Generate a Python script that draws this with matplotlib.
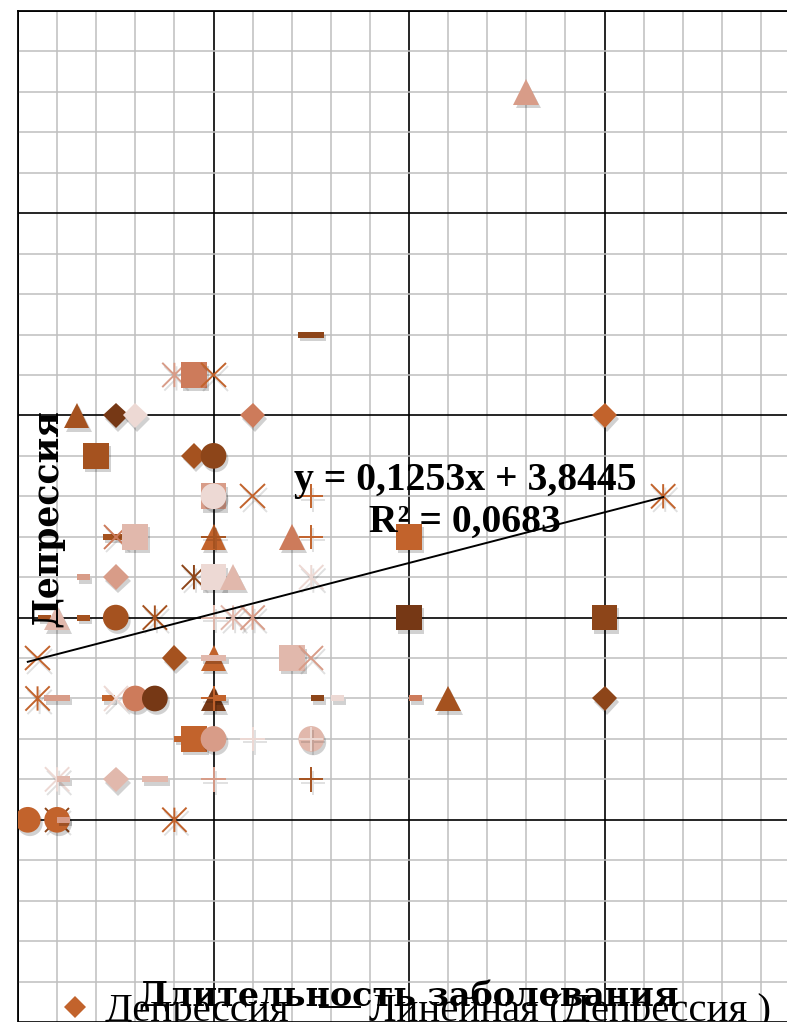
import numpy as np
import matplotlib
matplotlib.use('Agg')
import matplotlib.pyplot as plt
import matplotlib.patheffects as pe
from matplotlib.lines import Line2D
from matplotlib.path import Path

plt.rcParams['font.family'] = ['Liberation Serif', 'DejaVu Serif']

# palette of the "vary colours by point" series
ORANGE = '#C2632C'
RUST = '#A5521F'
BROWN = '#8D4519'
DARK = '#763815'
SALMON = '#CD7B5B'
LSAL = '#D89C88'
PINK = '#E1B8AC'
BLUSH = '#EDD9D4'

# duration of illness (years) and depression score, row by row
duration = [26,
            15,
            8, 9, 10,
            3, 5, 6, 12, 30,
            4, 9, 10,
            10, 10, 12, 15, 33,
            5, 5, 6, 10, 10, 14, 15, 20,
            3, 5, 9, 10, 11, 15,
            1, 2, 3, 5, 7, 10, 11, 12, 20, 30,
            1, 8, 10, 10, 14, 15,
            1, 2, 4.3, 5, 6, 7, 10, 10, 10, 15, 16, 20, 22, 30,
            8, 9, 10, 12, 15, 15,
            2, 2, 5, 7, 10, 15,
            0.5, 2, 2, 2, 8]
depression = [18,
              12,
              11, 11, 11,
              10, 10, 10, 10, 10,
              9, 9, 9,
              8, 8, 8, 8, 8,
              7, 7, 7, 7, 7, 7, 7, 7,
              6, 6, 6, 6, 6, 6,
              5, 5, 5, 5, 5, 5, 5, 5, 5, 5,
              4, 4, 4, 4, 4, 4,
              3, 3, 3, 3, 3, 3, 3, 3, 3, 3, 3, 3, 3, 3,
              2, 2, 2, 2, 2, 2,
              1, 1, 1, 1, 1, 1,
              0, 0, 0, 0, 0]

# marker shape and colour of each point
shapes = ['tri',
          'bar',
          'star', 'sq', 'x',
          'tri', 'dia', 'dia', 'dia', 'dia',
          'sq', 'dia', 'circ',
          'sq', 'circ', 'x', 'plus', 'star',
          'bar', 'x', 'sq', 'tri', 'plus', 'tri', 'plus', 'sq',
          'dot', 'dia', 'star', 'sq', 'tri', 'star',
          'dot', 'tri', 'dot', 'circ', 'star', 'plus', 'star', 'star', 'sq', 'sq',
          'x', 'dia', 'tri', 'bar', 'sq', 'x',
          'star', 'bar', 'dot', 'x', 'circ', 'circ', 'tri', 'plus', 'dot',
          'dot', 'dot', 'dot', 'tri', 'dia',
          'dot', 'sq', 'circ', 'plus', 'circ', 'plus',
          'star', 'dot', 'dia', 'bar', 'plus', 'plus',
          'circ', 'x', 'circ', 'dot', 'star']
tones = [LSAL,
         BROWN,
         LSAL, SALMON, ORANGE,
         RUST, DARK, BLUSH, SALMON, ORANGE,
         RUST, RUST, BROWN,
         LSAL, BLUSH, ORANGE, ORANGE, ORANGE,
         RUST, SALMON, PINK, ORANGE, RUST, SALMON, ORANGE, ORANGE,
         LSAL, LSAL, BROWN, BLUSH, PINK, BLUSH,
         RUST, PINK, RUST, RUST, RUST, PINK, PINK, LSAL, DARK, BROWN,
         ORANGE, RUST, ORANGE, PINK, PINK, LSAL,
         ORANGE, LSAL, ORANGE, BLUSH, SALMON, DARK, DARK, ORANGE, ORANGE,
         BROWN, BLUSH, SALMON, RUST, BROWN,
         ORANGE, ORANGE, LSAL, BLUSH, PINK, BLUSH,
         BLUSH, PINK, PINK, PINK, LSAL, RUST,
         ORANGE, BROWN, ORANGE, LSAL, ORANGE]

# linear trend as printed on the chart
SLOPE = 0.1253
INTERCEPT = 3.8445
R2 = 0.0683

# custom marker paths: asterisk, long bar, short bar (drawn to the right)
star_path = Path([(-1, -1), (1, 1), (-1, 1), (1, -1), (0, -1), (0, 1)],
                 [Path.MOVETO, Path.LINETO] * 3)
long_bar = Path([(-1, -0.23), (1, -0.23), (1, 0.23), (-1, 0.23), (-1, -0.23)])
short_bar = Path([(0, -0.23), (1, -0.23), (1, 0.23), (0, 0.23), (0, -0.23)])

MARKERS = {
    'sq': ('s', 18.5, True),
    'circ': ('o', 18.5, True),
    'dia': ('D', 13.0, True),
    'tri': ('^', 18.5, True),
    'bar': (long_bar, 18.7, True),
    'dot': (short_bar, 18.7, True),
    'x': ('x', 17.5, False),
    'plus': ('+', 17.5, False),
    'star': (star_path, 17.5, False),
}

fill_shadow = [pe.SimplePatchShadow(offset=(1.5, -2.5), shadow_rgbFace='black', alpha=0.18),
               pe.Normal()]
line_shadow = [pe.SimpleLineShadow(offset=(1.5, -2.5), shadow_color='black', alpha=0.12),
               pe.Normal()]

fig = plt.figure(figsize=(7.87, 10.22), dpi=100)
ax = fig.add_axes([18 / 787, 0, 782 / 787, 1011 / 1022])

ax.set_xlim(0, 40)
ax.set_ylim(-5, 20)
ax.set_xticks(np.arange(0, 41, 10))
ax.set_xticks(np.arange(0, 41, 2), minor=True)
ax.set_yticks(np.arange(-5, 21, 5))
ax.set_yticks(np.arange(-5, 21, 1), minor=True)
ax.tick_params(which='both', length=0, labelbottom=False, labelleft=False)
ax.grid(which='minor', color='#BFBFBF', lw=1.1)
ax.grid(which='major', color='black', lw=1.2)
ax.set_axisbelow(True)
for side in ['right', 'bottom']:
    ax.spines[side].set_visible(False)
for side in ['left', 'top']:
    ax.spines[side].set_linewidth(1.3)

for x, y, shape, tone in zip(duration, depression, shapes, tones):
    marker, size, filled = MARKERS[shape]
    if filled:
        ax.plot(x, y, ls='none', marker=marker, ms=size, mfc=tone, mec=tone,
                mew=0, zorder=3, path_effects=fill_shadow)
    else:
        ax.plot(x, y, ls='none', marker=marker, ms=size, mfc='none', mec=tone,
                mew=1.4, zorder=3, path_effects=line_shadow)

# trend line over the range of the data
tx = np.array([min(duration), max(duration)])
ax.plot(tx, SLOPE * tx + INTERCEPT, color='black', lw=1.4, zorder=4)

eq = f'y = {SLOPE:.4f}x + {INTERCEPT:.4f}'.replace('.', ',')
r2 = f'R² = {R2:.4f}'.replace('.', ',')
fig.text(465 / 787, 1 - 490 / 1022, eq, ha='center', va='baseline',
         fontsize=28.5, fontweight='bold', zorder=6)
fig.text(465 / 787, 1 - 532 / 1022, r2, ha='center', va='baseline',
         fontsize=28.5, fontweight='bold', zorder=6)

# axis titles
fig.text(47 / 787, 1 - 518 / 1022, 'Депрессия', rotation=90, ha='center',
         va='center', fontsize=25, fontweight='bold', family='DejaVu Serif', zorder=6)
fig.text(409 / 787, 1 - 1006 / 1022, 'Длительность заболевания', ha='center',
         va='baseline', fontsize=24, fontweight='bold', family='DejaVu Serif', zorder=7)

handles = [Line2D([], [], ls='none', marker='D', ms=11.7, mfc=ORANGE, mec=ORANGE, mew=0),
           Line2D([], [], color='black', lw=1.4)]
fig.legend(handles, ['Депрессия', 'Линейная (Депрессия )'], loc='lower left',
           bbox_to_anchor=(55 / 787, -8 / 1022), ncol=2, frameon=False,
           fontsize=29.3, handlelength=1.0, handletextpad=0.22,
           columnspacing=0.75, borderpad=0, borderaxespad=0)

fig.savefig('out.png', dpi=100)
